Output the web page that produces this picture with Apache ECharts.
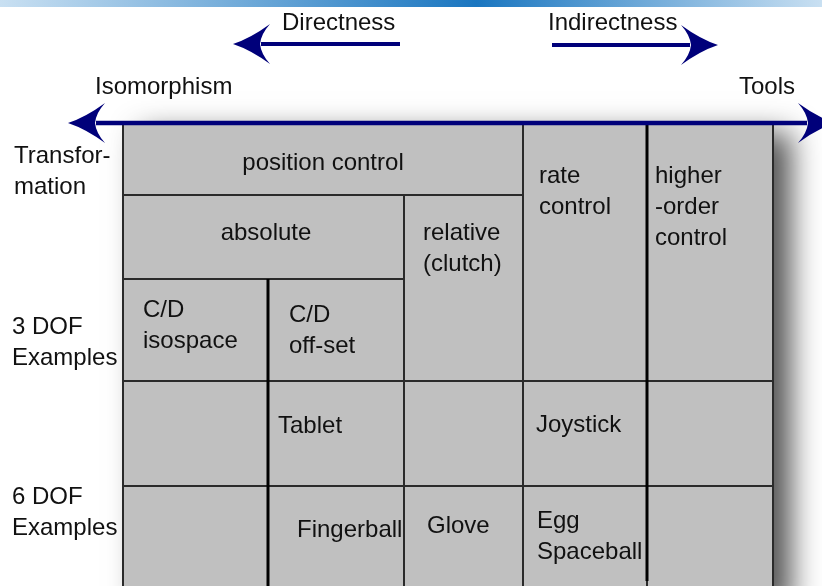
<!DOCTYPE html>
<html>
<head>
<meta charset="utf-8">
<script src="https://cdn.jsdelivr.net/npm/echarts@6/dist/echarts.min.js"></script>
<style>html,body{margin:0;padding:0;background:#fff}#chart{width:822px;height:586px}</style>
</head>
<body>
<div id="chart"></div>
<script>
// ---- diagram data ----
const colEdges = [123, 268, 404, 523, 647, 773];
const rowEdges = [123, 195, 279, 381, 486, 600];
// cell spans: [col start, col end, row start, row end] (indices into edges)
const cellSpans = [
  [0,3,0,1],[0,2,1,2],[2,3,1,3],[3,4,0,3],[4,5,0,3],
  [0,1,2,3],[1,2,2,3],
  [0,1,3,4],[1,2,3,4],[2,3,3,4],[3,4,3,4],[4,5,3,4],
  [0,1,4,5],[1,2,4,5],[2,3,4,5],[3,4,4,5],[4,5,4,5]
];
const cellLabels = [
  'position control','absolute','relative\n(clutch)','rate\ncontrol','higher\n-order\ncontrol',
  'C/D\nisospace','C/D\noff-set',
  '','Tablet','','Joystick','',
  '','Fingerball','Glove','Egg\nSpaceball',''
];
const rowLabels = ['Transfor-\nmation','3 DOF\nExamples','6 DOF\nExamples'];
const scaleLabels = ['Directness','Indirectness','Isomorphism','Tools'];

// ---- layout (positions / styles) ----
const cellLabelAnchor = [
  [323,163,'center'],[266,233,'center'],[423,233,'left'],[539,176,'left'],[655,176,'left'],
  [143,310,'left'],[289,315,'left'],
  [0,0,'left'],[278,426,'left'],[0,0,'left'],[536,425,'left'],[0,0,'left'],
  [0,0,'left'],[297,530,'left'],[427,526,'left'],[537,521,'left'],[0,0,'left']
];
const rowLabelAnchor = [[14,156],[12,327],[12,497]];
const scaleLabelAnchor = [[282,23],[548,23],[95,87],[739,87]];
const thickLines = [[268,279,268,600],[647,123,647,581]];
// arrows: [x tail, y tail, x tip, y tip, head at tail?, line width]
const arrows = [
  [400,44,233,44,0,4],
  [552,45,718,45,0,4],
  [835,123,68,123,1,4.5]
];
const LINE_GAP = 31;
const FONT = 'Liberation Sans, Arial, sans-serif';
const NAVY = '#00007a';

const cellData = cellSpans.map(s => [colEdges[s[0]], rowEdges[s[2]], colEdges[s[1]], rowEdges[s[3]]]);

function textLines(api, label, anchor, align) {
  const out = [];
  if (!label) return out;
  const p = api.coord([anchor[0], anchor[1]]);
  label.split('\n').forEach((t, k) => {
    out.push({type:'text', style:{text:t, x:p[0], y:p[1] + k*LINE_GAP, fill:'#111',
      fontSize:24, fontFamily:FONT, align:align || 'left', verticalAlign:'middle'}});
  });
  return out;
}

function headPath(tip, dir) {
  const n = [-dir[1], dir[0]];
  const P = (s, l) => [tip[0] - dir[0]*s + n[0]*l, tip[1] - dir[1]*s + n[1]*l];
  const f = q => q[0].toFixed(2) + ' ' + q[1].toFixed(2);
  return 'M' + f(tip) + ' Q' + f(P(18,6)) + ' ' + f(P(37,20)) +
    ' Q' + f(P(28,10)) + ' ' + f(P(27,0)) +
    ' Q' + f(P(28,-10)) + ' ' + f(P(37,-20)) +
    ' Q' + f(P(18,-6)) + ' ' + f(tip) + ' Z';
}

const chart = echarts.init(document.getElementById('chart'), null, {renderer:'canvas'});
chart.setOption({
  animation: false,
  backgroundColor: '#fff',
  grid: {left:0, right:0, top:0, bottom:0},
  xAxis: {type:'value', min:0, max:822, show:false},
  yAxis: {type:'value', min:0, max:586, inverse:true, show:false},
  graphic: [{
    type:'rect', shape:{x:0, y:0, width:822, height:7}, silent:true,
    style:{fill:new echarts.graphic.LinearGradient(0,0,1,0,[
      {offset:0, color:'#c9e0f2'},{offset:0.58, color:'#1a76c0'},{offset:1, color:'#c9e0f2'}])}
  }],
  series: [
    { // drop shadow of the table
      type:'custom', silent:true, z:1,
      data:[[colEdges[0], rowEdges[0], colEdges[colEdges.length-1], rowEdges[rowEdges.length-1]]],
      renderItem(params, api) {
        const a = api.coord([api.value(0), api.value(1)]);
        const b = api.coord([api.value(2), api.value(3)]);
        return {type:'rect', shape:{x:a[0], y:a[1], width:b[0]-a[0], height:b[1]-a[1]},
          style:{fill:'#c0c0c0', shadowBlur:28, shadowOffsetX:18, shadowOffsetY:10, shadowColor:'rgba(0,0,0,0.68)'}};
      }
    },
    { // cells
      type:'custom', silent:true, z:2,
      data: cellData,
      renderItem(params, api) {
        const i = params.dataIndex;
        const a = api.coord([api.value(0), api.value(1)]);
        const b = api.coord([api.value(2), api.value(3)]);
        const anc = cellLabelAnchor[i];
        return {type:'group', children:[
          {type:'rect', shape:{x:a[0], y:a[1], width:b[0]-a[0], height:b[1]-a[1]},
            style:{fill:'#c0c0c0', stroke:'#2a2a2a', lineWidth:2}}
        ].concat(textLines(api, cellLabels[i], anc, anc[2]))};
      }
    },
    { // heavier divider lines
      type:'custom', silent:true, z:3,
      data: thickLines,
      renderItem(params, api) {
        const a = api.coord([api.value(0), api.value(1)]);
        const b = api.coord([api.value(2), api.value(3)]);
        return {type:'line', shape:{x1:a[0], y1:a[1], x2:b[0], y2:b[1]}, style:{stroke:'#000', lineWidth:3}};
      }
    },
    { // arrows
      type:'custom', silent:true, z:4,
      data: arrows,
      renderItem(params, api) {
        const t = api.coord([api.value(0), api.value(1)]);
        const h = api.coord([api.value(2), api.value(3)]);
        const both = api.value(4) === 1;
        const lw = api.value(5);
        const L = Math.hypot(h[0]-t[0], h[1]-t[1]);
        const d = [(h[0]-t[0])/L, (h[1]-t[1])/L];
        const end = [h[0] - d[0]*28, h[1] - d[1]*28];
        const start = both ? [t[0] + d[0]*28, t[1] + d[1]*28] : t;
        const ch = [
          {type:'line', shape:{x1:start[0], y1:start[1], x2:end[0], y2:end[1]}, style:{stroke:NAVY, lineWidth:lw}},
          {type:'path', shape:{pathData:headPath(h, d)}, style:{fill:NAVY}}
        ];
        if (both) ch.push({type:'path', shape:{pathData:headPath(t, [-d[0], -d[1]])}, style:{fill:NAVY}});
        return {type:'group', children:ch};
      }
    },
    { // row labels
      type:'custom', silent:true, z:5,
      data: rowLabelAnchor,
      renderItem(params, api) {
        return {type:'group', children:textLines(api, rowLabels[params.dataIndex], [api.value(0), api.value(1)], 'left')};
      }
    },
    { // scale labels
      type:'custom', silent:true, z:5,
      data: scaleLabelAnchor,
      renderItem(params, api) {
        return {type:'group', children:textLines(api, scaleLabels[params.dataIndex], [api.value(0), api.value(1)], 'left')};
      }
    }
  ]
});
</script>
</body>
</html>
